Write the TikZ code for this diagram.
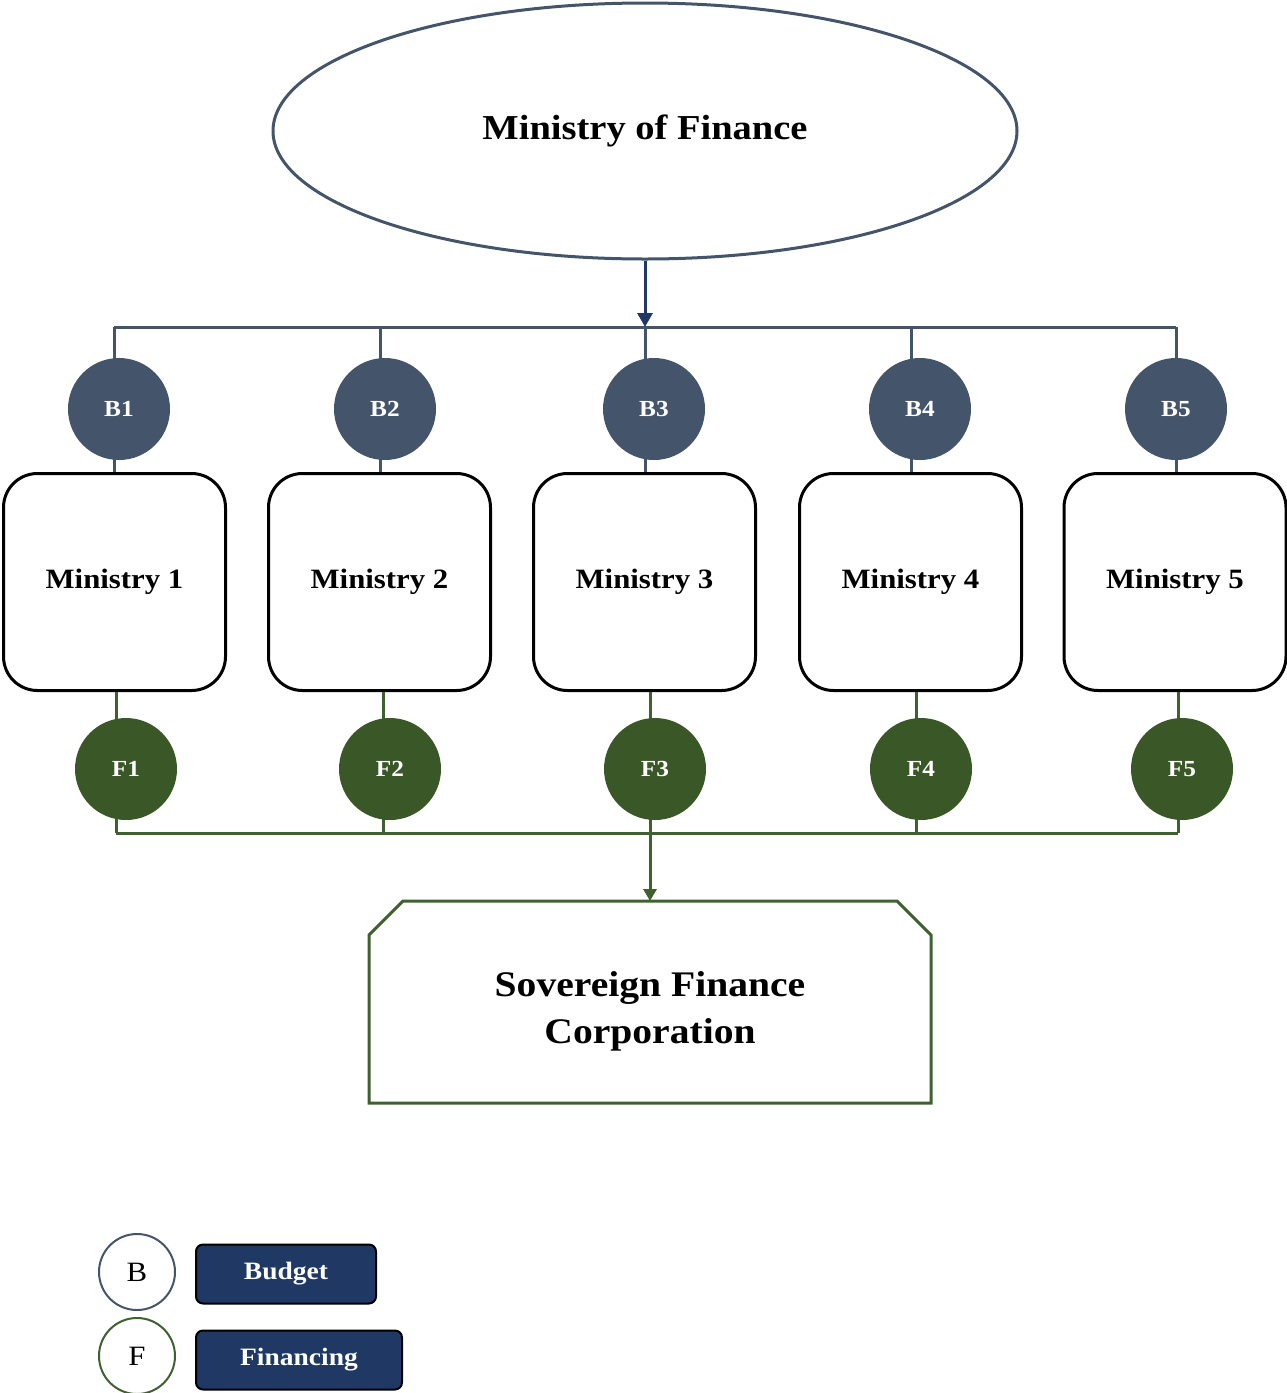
\documentclass[tikz,border=0pt]{standalone}
\usepackage{fontspec}
\setmainfont[FakeStretch=1.1]{Liberation Serif}
\usetikzlibrary{arrows.meta,shapes.geometric}
\definecolor{slate}{HTML}{44546A}
\definecolor{navy}{HTML}{1F3864}
\definecolor{dgreen}{HTML}{3A5727}
\definecolor{lgreen}{HTML}{3F6130}
\tikzset{
  bcirc/.style={circle,fill=slate,minimum size=102pt,inner sep=0pt,text=white,font=\bfseries\fontsize{23}{26}\selectfont},
  fcirc/.style={circle,fill=dgreen,minimum size=102pt,inner sep=0pt,text=white,font=\bfseries\fontsize{23}{26}\selectfont},
  minbox/.style={draw=black,line width=3pt,rounded corners=34pt,fill=white,minimum width=222pt,minimum height=217pt,inner sep=0pt,font=\bfseries\fontsize{28}{32}\selectfont},
  bline/.style={draw=slate,line width=3pt},
  gline/.style={draw=lgreen,line width=3pt},
  legcirc/.style={circle,minimum size=76pt,inner sep=0pt,line width=2pt,font=\fontsize{28}{30}\selectfont},
  legbox/.style={draw=black,line width=2pt,fill=navy,rounded corners=7pt,text=white,minimum height=59pt,inner sep=0pt,font=\bfseries\fontsize{25}{28}\selectfont},
}
\begin{document}
\begin{tikzpicture}[x=1pt,y=-1pt]
\useasboundingbox (0,0) rectangle (1287,1393);
% Ministry of Finance
\node[ellipse,draw=slate,line width=3pt,minimum width=744pt,minimum height=256pt,inner sep=0pt,font=\bfseries\fontsize{35}{40}\selectfont] (mof) at (645,131) {Ministry of Finance};
% top bus
\coordinate (tb1) at (114,327);
\coordinate (tb2) at (380,327);
\coordinate (tb3) at (645,327);
\coordinate (tb4) at (911,327);
\coordinate (tb5) at (1176,327);
% bottom bus
\coordinate (fb1) at (116,833);
\coordinate (fb2) at (383,833);
\coordinate (fb3) at (650,833);
\coordinate (fb4) at (916,833);
\coordinate (fb5) at (1178,833);
\coordinate (sfctop) at (650,901);
% boxes
\node[minbox] (m1) at (114.5,582) {Ministry 1};
\node[minbox] (m2) at (379.5,582) {Ministry 2};
\node[minbox] (m3) at (644.5,582) {Ministry 3};
\node[minbox] (m4) at (910.5,582) {Ministry 4};
\node[minbox] (m5) at (1175,582) {Ministry 5};
% connectors behind circles
\draw[bline] (tb1) -- (tb5);
\foreach \i in {1,...,5} {
  \draw[bline] (tb\i) -- (tb\i |- m\i.north);
}
\draw[gline] (fb1) -- (fb5);
\foreach \i in {1,...,5} {
  \draw[gline] (fb\i) -- (fb\i |- m\i.south);
}
\draw[draw=navy,line width=3pt,-{Triangle[width=15pt,length=14pt]}] (mof.south) -- (tb3);
\draw[gline,-{Triangle[width=13pt,length=12pt]}] (fb3) -- (sfctop);
% circles
\node[bcirc] (b1) at (119,409) {B1};
\node[bcirc] (b2) at (385,409) {B2};
\node[bcirc] (b3) at (654,409) {B3};
\node[bcirc] (b4) at (920,409) {B4};
\node[bcirc] (b5) at (1176,409) {B5};
\node[fcirc] (f1) at (126,769) {F1};
\node[fcirc] (f2) at (390,769) {F2};
\node[fcirc] (f3) at (655,769) {F3};
\node[fcirc] (f4) at (921,769) {F4};
\node[fcirc] (f5) at (1182,769) {F5};
% Sovereign Finance Corporation
\draw[draw=lgreen,line width=3pt] (369,1103) -- (369,935) -- (403,901) -- (897,901) -- (931,935) -- (931,1103) -- cycle;
\node[align=center,font=\bfseries\fontsize{36}{47}\selectfont] (sfc) at (650,1011) {Sovereign Finance\\Corporation};
% legend
\node[legcirc,draw=slate] (lb) at (137,1272) {B};
\node[legcirc,draw=lgreen] (lf) at (137,1356) {F};
\node[legbox,minimum width=180pt] (lbud) at (286,1274) {Budget};
\node[legbox,minimum width=206pt] (lfin) at (299,1360) {Financing};
\end{tikzpicture}
\end{document}
